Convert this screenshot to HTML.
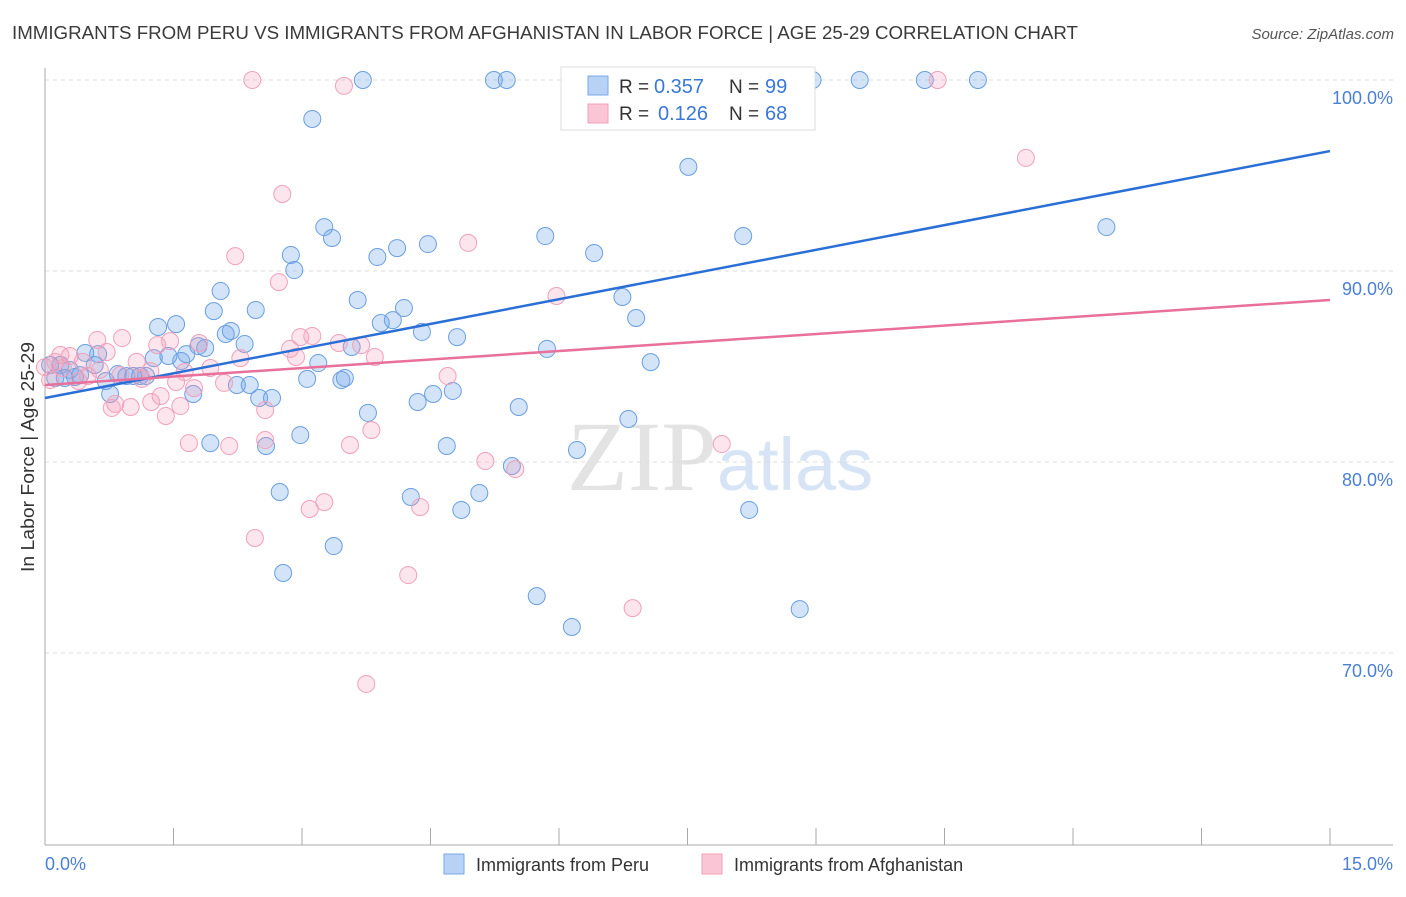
<!DOCTYPE html>
<html><head><meta charset="utf-8"><style>
body{margin:0;background:#fff;font-family:"Liberation Sans",sans-serif}
</style></head><body>
<svg id="chart" width="1406" height="892" viewBox="0 0 1406 892" xmlns="http://www.w3.org/2000/svg" style="font-family:'Liberation Sans',sans-serif">
<text x="12" y="39" font-size="18" fill="#3a3a3a" textLength="1066" lengthAdjust="spacingAndGlyphs">IMMIGRANTS FROM PERU VS IMMIGRANTS FROM AFGHANISTAN IN LABOR FORCE | AGE 25-29 CORRELATION CHART</text>
<text x="1394" y="39" font-size="15" fill="#555" text-anchor="end" font-style="italic">Source: ZipAtlas.com</text>
<text x="720" y="490" font-size="100" fill="#e3e3e3" text-anchor="middle" font-family="Liberation Serif, serif">ZIP<tspan fill="#d6e4f5" font-family="Liberation Sans, sans-serif" font-size="74">atlas</tspan></text>
<g id="grid"></g>
<g id="axes"></g>
<g id="pts"></g>
<g id="trends"></g>
<text transform="translate(34,457) rotate(-90)" font-size="18" fill="#333" text-anchor="middle" textLength="230" lengthAdjust="spacingAndGlyphs">In Labor Force | Age 25-29</text>
<text x="45" y="870" font-size="18" fill="#4a7fd4">0.0%</text>
<text x="1393" y="870" font-size="18" fill="#4a7fd4" text-anchor="end">15.0%</text>
<g>
<rect x="561" y="67" width="254" height="63" fill="#fff" stroke="#ddd"/>
<rect x="588" y="76" width="20" height="19" fill="#b8d2f5" stroke="#7aa8e8"/>
<rect x="588" y="104" width="20" height="19" fill="#fac6d6" stroke="#f0a0b8"/>
<text x="619" y="93" font-size="19" fill="#333">R =</text>
<text x="654" y="93" font-size="20" fill="#3a78d8">0.357</text>
<text x="729" y="93" font-size="19" fill="#333">N =</text>
<text x="765" y="93" font-size="20" fill="#3a78d8">99</text>
<text x="619" y="120" font-size="19" fill="#333">R =</text>
<text x="658" y="120" font-size="20" fill="#3a78d8">0.126</text>
<text x="729" y="120" font-size="19" fill="#333">N =</text>
<text x="765" y="120" font-size="20" fill="#3a78d8">68</text>
</g>
<g>
<rect x="444" y="854" width="20" height="20" fill="#b8d2f5" stroke="#7aa8e8"/>
<text x="476" y="871" font-size="18" fill="#333">Immigrants from Peru</text>
<rect x="702" y="854" width="20" height="20" fill="#fac6d6" stroke="#f0a0b8"/>
<text x="734" y="871" font-size="18" fill="#333">Immigrants from Afghanistan</text>
</g>
</svg>
<script>
const yTicks=[100,90,80,70];
const yTickLabels=["100.0%","90.0%","80.0%","70.0%"];
const peruX=[3.71,5.24,5.39,6.56,6.93,7.05,7.16,7.75,8.12,8.96,9.51,10.27,10.89,3.12,7.51,12.39,3.26,3.35,5.84,8.15,4.11,4.47,6.41,3.88,2.87,2.91,2.05,3.65,4.19,2.46,6.74,4.06,3.92,6.90,1.97,1.32,1.53,2.17,2.11,4.40,4.81,1.79,2.33,3.58,5.86,1.44,1.65,1.87,1.27,3.19,7.07,1.59,0.62,0.47,0.18,0.29,0.71,0.85,0.95,1.03,1.11,1.18,0.76,1.73,2.24,2.39,3.06,3.46,3.50,2.50,2.65,4.53,4.76,4.35,3.77,5.53,6.81,1.93,2.98,2.58,4.69,6.21,5.45,2.74,4.27,5.07,4.86,8.22,3.37,2.78,5.74,6.15,8.81,0.06,0.12,0.23,0.35,0.41,0.58];
const peruY=[100,100,100,100,100,100,100,100,100,100,100,100,100,97.96,95.45,92.30,92.30,91.73,91.83,91.83,91.20,91.41,90.94,90.73,90.84,90.05,88.95,88.48,88.06,87.96,88.64,87.43,87.28,87.54,87.90,87.07,87.22,86.86,86.70,86.81,86.54,86.07,86.18,86.02,85.92,85.55,85.65,85.97,85.44,85.18,85.23,85.29,85.65,85.71,85.08,84.82,84.24,84.61,84.50,84.50,84.50,84.50,83.56,83.56,84.03,84.03,84.35,84.29,84.40,83.35,83.35,83.56,83.72,83.14,82.57,82.88,82.25,80.99,81.41,80.84,80.84,80.63,79.79,78.43,78.17,78.38,77.49,77.49,75.60,74.19,72.98,71.36,72.30,85.08,84.40,84.40,84.45,84.55,85.08];
const afgX=[2.42,3.49,10.42,8.67,11.45,2.77,2.22,4.94,2.73,5.97,0.90,0.61,0.18,0.12,0.29,0.72,1.07,1.31,1.46,1.80,2.28,2.86,2.98,3.12,2.93,3.69,3.43,3.85,4.70,1.53,1.74,1.93,2.09,1.23,1.13,1.35,1.24,1.58,1.41,0.82,1.00,0.78,0.50,0.39,2.57,2.57,1.68,2.15,3.56,3.81,2.45,3.09,3.26,4.38,5.14,5.49,7.90,4.24,6.86,3.75,0.0,0.06,0.21,0.44,0.64,0.88,1.63];
const afgY=[100,99.69,100,100,95.92,94.03,90.78,91.47,89.42,88.69,86.49,86.39,85.60,85.24,85.55,85.76,85.24,86.12,86.33,86.23,85.44,85.92,86.54,86.60,85.50,86.12,86.23,85.50,84.50,84.19,83.87,84.92,84.14,84.76,84.35,83.45,83.14,82.93,82.41,83.04,82.88,82.83,84.50,84.24,82.72,81.15,80.99,80.84,80.89,81.67,76.02,77.54,77.90,77.64,80.05,79.63,80.94,74.08,72.35,68.38,84.97,84.29,84.92,85.24,84.82,84.55,84.71];
const peruTrend=[83.35,96.28];
const afgTrend=[84.03,88.48];
const NS="http://www.w3.org/2000/svg";
const X0=45,X1=1330,Y100=80,PX10=191;
const xs=v=>X0+(v/15)*(X1-X0);
const ys=v=>Y100+(100-v)/10*PX10;
function mk(tag,attrs,parent){const e=document.createElementNS(NS,tag);for(const k in attrs)e.setAttribute(k,attrs[k]);parent.appendChild(e);return e;}
const grid=document.getElementById('grid'),axes=document.getElementById('axes'),pts=document.getElementById('pts'),tr=document.getElementById('trends');
yTicks.forEach((t,i)=>{
  const l=mk('line',{x1:X0,x2:1393,y1:ys(t),y2:ys(t),stroke:'#ddd','stroke-dasharray':'4,4'},grid);
  
  
  const tx=mk('text',{x:1393,y:ys(t)+24,'font-size':18,fill:'#4a7fd4','text-anchor':'end'},grid);
  tx.textContent=yTickLabels[i];
  
  
});
const ya=mk('line',{x1:X0,x2:X0,y1:68,y2:845,stroke:'#aaa'},axes);


const xa=mk('line',{x1:X0,x2:1393,y1:845,y2:845,stroke:'#aaa'},axes);


for(let i=0;i<=10;i++){
  const t=mk('line',{x1:xs(i*1.5),x2:xs(i*1.5),y1:828,y2:845,stroke:'#aaa'},axes);
  
  
}
function dots(X,Y,fill,stroke,name){
  X.forEach((v,i)=>{
    const c=mk('circle',{cx:xs(v),cy:ys(Y[i]),r:8.5,fill:fill,stroke:stroke,'stroke-width':1},pts);
    
    
  });
}
dots(peruX,peruY,'rgba(110,165,235,0.3)','#6a9fe0','peru-point');
dots(afgX,afgY,'rgba(245,150,180,0.25)','#f0a0bc','afghanistan-point');
const t1=mk('line',{x1:xs(0),y1:ys(peruTrend[0]),x2:xs(15),y2:ys(peruTrend[1]),stroke:'#2a6fd6','stroke-width':2.5},tr);


const t2=mk('line',{x1:xs(0),y1:ys(afgTrend[0]),x2:xs(15),y2:ys(afgTrend[1]),stroke:'#e8709a','stroke-width':2.5},tr);


</script>
</body></html>
